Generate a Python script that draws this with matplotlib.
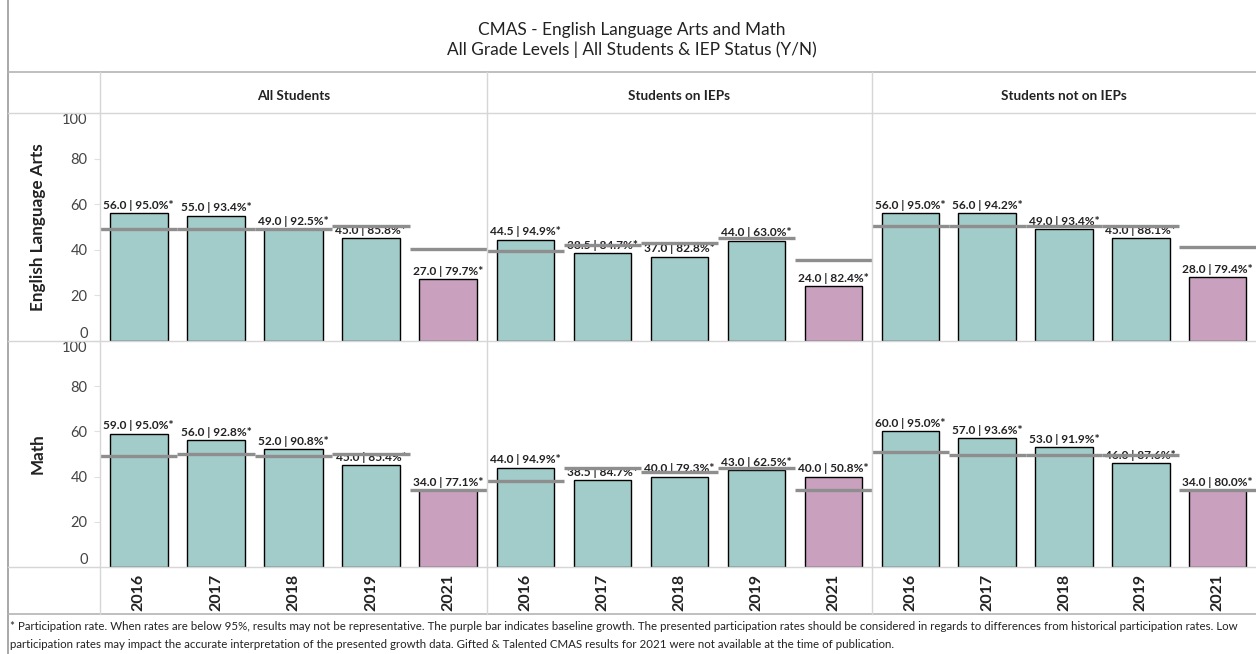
import matplotlib
matplotlib.use("Agg")
import matplotlib.pyplot as plt
from matplotlib.lines import Line2D

plt.rcParams['font.family'] = ['Lato', 'DejaVu Sans']

years = ['2016', '2017', '2018', '2019', '2021']
groups = ['All Students', 'Students on IEPs', 'Students not on IEPs']
subjects = ['English Language Arts', 'Math']

# median growth percentile per year
ela_all = [56.0, 55.0, 49.0, 45.0, 27.0]
ela_iep = [44.5, 38.5, 37.0, 44.0, 24.0]
ela_non = [56.0, 56.0, 49.0, 45.0, 28.0]
math_all = [59.0, 56.0, 52.0, 45.0, 34.0]
math_iep = [44.0, 38.5, 40.0, 43.0, 40.0]
math_non = [60.0, 57.0, 53.0, 46.0, 34.0]

# participation rates (%)
ela_all_part = [95.0, 93.4, 92.5, 85.8, 79.7]
ela_iep_part = [94.9, 84.7, 82.8, 63.0, 82.4]
ela_non_part = [95.0, 94.2, 93.4, 88.1, 79.4]
math_all_part = [95.0, 92.8, 90.8, 85.4, 77.1]
math_iep_part = [94.9, 84.7, 79.3, 62.5, 50.8]
math_non_part = [95.0, 93.6, 91.9, 87.6, 80.0]

# gray reference lines
ela_all_ref = [49.0, 49.0, 49.0, 50.5, 40.5]
ela_iep_ref = [39.5, 42.3, 43.0, 45.0, 35.7]
ela_non_ref = [50.3, 50.3, 50.3, 50.3, 41.2]
math_all_ref = [49.0, 50.0, 49.0, 50.0, 34.2]
math_iep_ref = [38.0, 44.0, 42.0, 44.0, 34.2]
math_non_ref = [51.0, 49.7, 49.7, 49.7, 34.2]

values = [[ela_all, ela_iep, ela_non], [math_all, math_iep, math_non]]
parts = [[ela_all_part, ela_iep_part, ela_non_part],
         [math_all_part, math_iep_part, math_non_part]]
refs = [[ela_all_ref, ela_iep_ref, ela_non_ref],
        [math_all_ref, math_iep_ref, math_non_ref]]

teal = '#A2CCC9'
purple = '#C9A1BF'
refgray = '#8E8E8E'
cellgray = '#D6D6D6'

W, H = 1256, 654
fig = plt.figure(figsize=(W / 100, H / 100), dpi=100)


def fx(x):
    return x / W


def fy(y):
    return 1 - y / H


def hline(y, x0, x1, color=cellgray, lw=1.0):
    fig.add_artist(Line2D([fx(x0), fx(x1)], [fy(y), fy(y)], color=color, lw=lw))


def vline(x, y0, y1, color=cellgray, lw=1.0):
    fig.add_artist(Line2D([fx(x), fx(x)], [fy(y0), fy(y1)], color=color, lw=lw))


col_x = [100, 487, 872, 1256]
row_y = [113, 341, 567]

for r in range(2):
    for c in range(3):
        x0, x1 = col_x[c], col_x[c + 1]
        y0, y1 = row_y[r], row_y[r + 1]
        ax = fig.add_axes([fx(x0), fy(y1), fx(x1 - x0), (y1 - y0) / H])
        vals = values[r][c]
        colors = [teal] * 4 + [purple]
        ax.bar(range(5), vals, width=0.75, color=colors, edgecolor='black',
               linewidth=1.0, zorder=2)
        for i, v in enumerate(vals):
            ax.text(i, v + 1.0, f'{v:.1f} | {parts[r][c][i]:.1f}%*',
                    ha='center', va='bottom', fontsize=8.6,
                    fontweight='bold', color='#222222', zorder=3)
            ax.hlines(refs[r][c][i], i - 0.5, i + 0.5, color=refgray,
                      lw=2.4, zorder=4)
        ax.set_xlim(-0.5, 4.5)
        ax.set_ylim(0, 100)
        for s in ax.spines.values():
            s.set_visible(False)
        if c == 0:
            ax.set_yticks([0, 20, 40, 60, 80, 100])
            ax.tick_params(axis='y', length=4, color='#E0E0E0',
                           labelsize=10.5, labelcolor='#444444', pad=5)
            tl = ax.get_yticklabels()
            tl[0].set_verticalalignment('bottom')
            tl[-1].set_verticalalignment('top')
        else:
            ax.set_yticks([])
        if r == 1:
            ax.set_xticks(range(5))
            ax.set_xticklabels(years, rotation=90, fontsize=11.5,
                               fontweight='bold', color='#222222')
            ax.tick_params(axis='x', length=0, pad=5)
        else:
            ax.set_xticks([])

# table grid
vline(8, 0, H, color='#9A9A9A', lw=1.2)
hline(72, 8, W, color='#B4B4B4', lw=1.2)
hline(113, 8, W)
hline(341, 8, W)
hline(567, 8, W)
hline(614, 8, W, color='#B4B4B4', lw=1.2)
for x in col_x[:3]:
    vline(x, 72, 614)

# titles
fig.text(fx(632), fy(30), 'CMAS - English Language Arts and Math',
         ha='center', va='center', fontsize=12.4, color='#222222')
fig.text(fx(632), fy(50), 'All Grade Levels | All Students & IEP Status (Y/N)',
         ha='center', va='center', fontsize=12.4, color='#222222')

for c, g in enumerate(groups):
    fig.text(fx((col_x[c] + col_x[c + 1]) / 2), fy(96), g, ha='center',
             va='center', fontsize=9.7, fontweight='bold', color='#222222')

for r, s in enumerate(subjects):
    fig.text(fx(38), fy((row_y[r] + row_y[r + 1]) / 2), s, rotation=90,
             ha='center', va='center', fontsize=12.3, fontweight='bold',
             color='#222222')

fig.text(fx(10), fy(626),
         '* Participation rate. When rates are below 95%, results may not be representative. '
         'The purple bar indicates baseline growth. The presented participation rates should be '
         'considered in regards to differences from historical participation rates. Low',
         ha='left', va='center', fontsize=8.3, color='#222222')
fig.text(fx(10), fy(644),
         'participation rates may impact the accurate interpretation of the presented growth data. '
         'Gifted & Talented CMAS results for 2021 were not available at the time of publication.',
         ha='left', va='center', fontsize=8.3, color='#222222')

fig.savefig('out.png', dpi=100)
